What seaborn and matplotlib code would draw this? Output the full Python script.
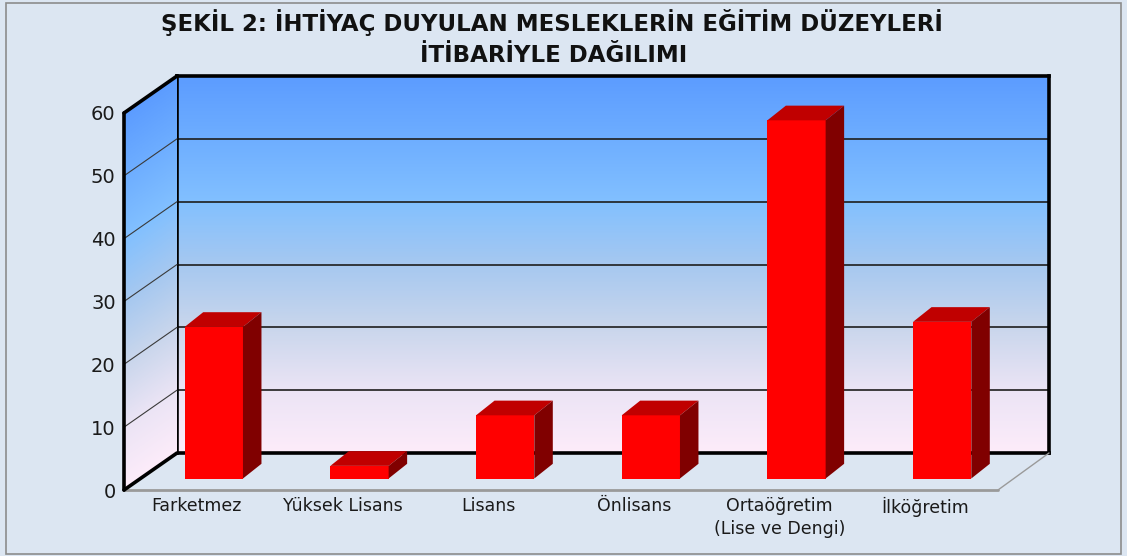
import numpy as np
import pandas as pd
import matplotlib
matplotlib.use("Agg")
import matplotlib.pyplot as plt
import seaborn as sns
from matplotlib.patches import Polygon, Rectangle
from matplotlib.colors import LinearSegmentedColormap

# ---------------- data ----------------
categories = ["Farketmez", "Yüksek Lisans", "Lisans", "Önlisans",
              "Ortaöğretim\n(Lise ve Dengi)", "İlköğretim"]
values = [24.0, 2.0, 10.0, 10.0, 56.7, 24.8]
yticks = [0, 10, 20, 30, 40, 50, 60]
title_line1 = "ŞEKİL 2: İHTİYAÇ DUYULAN MESLEKLERİN EĞİTİM DÜZEYLERİ"
title_line2 = "İTİBARİYLE DAĞILIMI"

# ---------------- style ----------------
sns.set_theme(style="white")
plt.rcParams["font.family"] = ["DejaVu Sans"]

W, H = 1127, 556
bg = "#dce6f2"
fig = plt.figure(figsize=(W / 100, H / 100), dpi=100, facecolor=bg)


def axrect(l, t, r, b):
    return [l / W, 1 - b / H, (r - l) / W, (b - t) / H]


wall_cmap = LinearSegmentedColormap.from_list(
    "wall",
    [(0.00, "#fdecfa"), (1 / 6, "#ebe4f5"), (2 / 6, "#c9d6ec"),
     (3 / 6, "#a6c8f0"), (4 / 6, "#82c0ff"), (5 / 6, "#6eaeff"),
     (1.00, "#5c9cff")])

# back wall
ax_back = fig.add_axes(axrect(177, 76, 1049, 453), zorder=1)
ax_back.set_xlim(0, 1)
ax_back.set_ylim(0, 60)
grad = np.linspace(0, 60, 256)[:, None]
ax_back.imshow(grad, extent=[0, 1, 0, 60], origin="lower", aspect="auto",
               cmap=wall_cmap, vmin=0, vmax=60)
for v in yticks[1:-1]:
    ax_back.axhline(v, color="#1e1e1e", lw=1.2)
for s in ax_back.spines.values():
    s.set_color("black")
    s.set_linewidth(2.6)
ax_back.set_xticks([])
ax_back.set_yticks([])

# front (label) plane and bar plane
ax_front = fig.add_axes(axrect(124, 113, 998, 490), zorder=4)
ax_bar = fig.add_axes(axrect(141, 99.5, 1015, 478.5), zorder=3)
for a in (ax_front, ax_bar):
    a.set_xlim(-0.5, 5.5)
    a.set_ylim(0, 60)
    a.patch.set_alpha(0)

# overlay in pixel coordinates for the 3D frame
ax_over = fig.add_axes([0, 0, 1, 1], zorder=2)
ax_over.set_xlim(0, W)
ax_over.set_ylim(H, 0)
ax_over.axis("off")
ax_over.patch.set_alpha(0)


def to_px(ax, x, y):
    d = ax.transData.transform((x, y))
    return d[0], H - d[1]


F0 = to_px(ax_front, -0.5, 0)
F60 = to_px(ax_front, -0.5, 60)
B0 = to_px(ax_back, 0, 0)
B60 = to_px(ax_back, 0, 60)

# left wall gradient (value interpolated between front and back edges)
xs = np.linspace(F0[0], B0[0], 60)
ys = np.linspace(B60[1], F0[1], 400)
XX, YY = np.meshgrid(xs, ys)
t = (XX - F0[0]) / (B0[0] - F0[0])
y0 = F0[1] + t * (B0[1] - F0[1])
y60 = F60[1] + t * (B60[1] - F60[1])
val = 60 * (y0 - YY) / (y0 - y60)
im = ax_over.imshow(np.clip(val, 0, 60), extent=[F0[0], B0[0], F0[1], B60[1]],
                    origin="upper", aspect="auto", cmap=wall_cmap,
                    vmin=0, vmax=60, zorder=1)
wall = Polygon([F0, F60, B60, B0], closed=True, facecolor="none",
               edgecolor="none", transform=ax_over.transData)
ax_over.add_patch(wall)
im.set_clip_path(wall)
for v in yticks[1:-1]:
    p1 = to_px(ax_front, -0.5, v)
    p2 = to_px(ax_back, 0, v)
    ax_over.plot([p1[0], p2[0]], [p1[1], p2[1]], color="#3a3a3a", lw=0.8, zorder=2)
for (a, b) in ((F0, F60), (F60, B60), (F0, B0)):
    ax_over.plot([a[0], b[0]], [a[1], b[1]], color="black", lw=2.6,
                 solid_capstyle="round", zorder=3)

# floor edges
FR = to_px(ax_front, 5.5, 0)
BR = to_px(ax_back, 1, 0)
ax_over.plot([F0[0], FR[0]], [F0[1], FR[1]], color="#9a9a9a", lw=2, zorder=2)
ax_over.plot([FR[0], BR[0]], [FR[1], BR[1]], color="#9a9a9a", lw=1, zorder=2)

# outer border
ax_over.add_patch(Rectangle((6, 3), 1115, 551, fill=False,
                            edgecolor="#8c8c8c", lw=1.2, zorder=5))

# ---------------- bars ----------------
df = pd.DataFrame({"cat": categories, "val": values})
sns.barplot(data=df, x="cat", y="val", order=categories, ax=ax_bar,
            color="#ff0000", saturation=1, width=0.4, linewidth=0)
ax_bar.set_xlim(-0.5, 5.5)
ax_bar.set_ylim(0, 60)
ax_bar.axis("off")

origin = ax_bar.transData.transform((0, 0))
dx, dy = ax_bar.transData.inverted().transform(origin + np.array([18.5, 14.7]))
for p in list(ax_bar.patches):
    x0, w, h = p.get_x(), p.get_width(), p.get_height()
    top = Polygon([(x0, h), (x0 + w, h), (x0 + w + dx, h + dy), (x0 + dx, h + dy)],
                  closed=True, facecolor="#c00000", edgecolor="none", clip_on=False)
    side = Polygon([(x0 + w, 0), (x0 + w + dx, dy), (x0 + w + dx, h + dy), (x0 + w, h)],
                   closed=True, facecolor="#800000", edgecolor="none", clip_on=False)
    ax_bar.add_patch(top)
    ax_bar.add_patch(side)

# ---------------- labels ----------------
ax_front.set_yticks(yticks)
ax_front.set_yticklabels([str(v) for v in yticks], fontsize=14, color="#1a1a1a")
ax_front.set_xticks(range(len(categories)))
ax_front.set_xticklabels(categories, fontsize=12.5, color="#1a1a1a", linespacing=1.35)
ax_front.tick_params(axis="y", length=0, pad=6)
ax_front.tick_params(axis="x", length=0, pad=5)
for s in ax_front.spines.values():
    s.set_visible(False)
ax_front.grid(False)
ax_front.set_xlabel("")
ax_front.set_ylabel("")

fig.text(552 / W, 1 - 22 / H, title_line1, ha="center", va="center",
         fontsize=16.5, fontweight="bold", color="#111111")
fig.text(554 / W, 1 - 55 / H, title_line2, ha="center", va="center",
         fontsize=16.5, fontweight="bold", color="#111111")

fig.savefig("out.png", dpi=100, facecolor=bg)
